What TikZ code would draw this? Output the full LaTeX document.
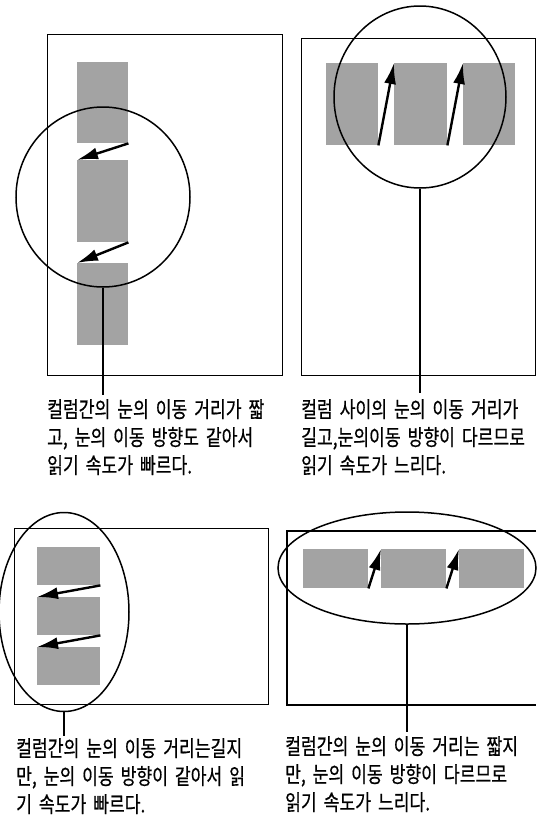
\documentclass[tikz,border=0pt]{standalone}
\usepackage{fontspec}
\newfontfamily\krfont[FakeStretch=0.78,WordSpace=1.8,FakeBold=0.6]{Noto Sans CJK KR}
\usetikzlibrary{shapes.geometric,arrows.meta}
\begin{document}
\begin{tikzpicture}[x=1pt,y=-1pt,
  frame/.style={rectangle,draw,line width=1.1pt,inner sep=0pt,anchor=north west},
  lens/.style={ellipse,draw,line width=1.5pt,inner sep=0pt},
  blk/.style={rectangle,fill=black!36,inner sep=0pt,anchor=north west},
  eye/.style={line width=2.4pt,-{Latex[length=21pt,width=12pt]}},
  lead/.style={line width=1.1pt},
  txt/.style={anchor=north west,align=left,inner sep=0pt,font=\krfont\fontsize{22}{28}\selectfont}
]
\useasboundingbox (0,0) rectangle (536,817);

% ---------- panel 1 (top left) ----------
\node[frame,minimum width=235pt,minimum height=341pt] (f1) at (47,34) {};
\node[blk,minimum width=51pt,minimum height=81pt] (a1) at (77,62) {};
\node[blk,minimum width=51pt,minimum height=82pt] (a2) at (77,160) {};
\node[blk,minimum width=51pt,minimum height=82pt] (a3) at (77,263) {};
\draw[eye] (a1.south east) -- (a2.north west);
\draw[eye] (a2.south east) -- (a3.north west);
\node[lens,minimum width=174pt,minimum height=180pt] (e1) at (103,197) {};
\coordinate (t1) at (103,395);
\draw[lead] (e1.south) -- (t1);
\node[txt] (c1) at (47,399) {컬럼간의 눈의 이동 거리가 짧\\고, 눈의 이동 방향도 같아서\\읽기 속도가 빠르다.};

% ---------- panel 2 (top right) ----------
\node[frame,minimum width=234pt,minimum height=337pt] (f2) at (301,38) {};
\node[blk,minimum width=52pt,minimum height=82pt] (b1) at (326,63) {};
\node[blk,minimum width=53pt,minimum height=82pt] (b2) at (394,63) {};
\node[blk,minimum width=52pt,minimum height=82pt] (b3) at (463,63) {};
\draw[eye] (b1.south east) -- (b2.north west);
\draw[eye] (b2.south east) -- (b3.north west);
\node[lens,minimum width=172pt,minimum height=182pt] (e2) at (420,97) {};
\coordinate (t2) at (420,393);
\draw[lead] (e2.south) -- (t2);
\node[txt] (c2) at (301,399) {컬럼 사이의 눈의 이동 거리가\\길고,눈의이동 방향이 다르므로\\읽기 속도가 느리다.};

% ---------- panel 3 (bottom left) ----------
\node[frame,minimum width=254pt,minimum height=176pt] (f3) at (14,528) {};
\node[blk,minimum width=63pt,minimum height=38pt] (d1) at (37,547) {};
\node[blk,minimum width=63pt,minimum height=38pt] (d2) at (37,597) {};
\node[blk,minimum width=63pt,minimum height=38pt] (d3) at (37,647) {};
\draw[eye] (d1.south east) -- (d2.north west);
\draw[eye] (d2.south east) -- (d3.north west);
\node[lens,minimum width=130pt,minimum height=199pt] (e3) at (64,612) {};
\coordinate (t3) at (64,736);
\draw[lead] (e3.south) -- (t3);
\node[txt] (c3) at (16,738) {컬럼간의 눈의 이동 거리는길지\\만, 눈의 이동 방향이 같아서 읽\\기 속도가 빠르다.};

% ---------- panel 4 (bottom right) ----------
\draw[line width=1.1pt] (536,531) -- (287,531) -- (287,705) -- (536,705);
\node[blk,minimum width=65pt,minimum height=39pt] (g1) at (303,549) {};
\node[blk,minimum width=65pt,minimum height=39pt] (g2) at (381,549) {};
\node[blk,minimum width=65pt,minimum height=39pt] (g3) at (459,549) {};
\draw[eye] (g1.south east) -- (g2.north west);
\draw[eye] (g2.south east) -- (g3.north west);
\node[lens,minimum width=258pt,minimum height=112pt] (e4) at (407,568) {};
\coordinate (t4) at (407,732);
\draw[lead] (e4.south) -- (t4);
\node[txt] (c4) at (285,736) {컬럼간의 눈의 이동 거리는 짧지\\만, 눈의 이동 방향이 다르므로\\읽기 속도가 느리다.};
\end{tikzpicture}
\end{document}
